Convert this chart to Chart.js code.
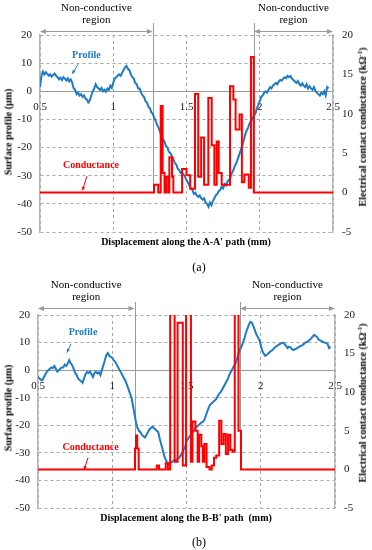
<!DOCTYPE html>
<html>
<head>
<meta charset="utf-8">
<script src="https://cdn.jsdelivr.net/npm/chart.js@4.4.1/dist/chart.umd.min.js"></script>
<style>
  html, body { margin: 0; padding: 0; background: #fff; }
  #wrap { position: relative; width: 372px; height: 550px; font-family: "Liberation Serif", serif; color: #000; }
  .panel { position: absolute; left: 0; width: 372px; height: 275px; }
  .panel canvas { position: absolute; left: 0; top: 0; }
  .ttl { position: absolute; white-space: nowrap; font-weight: bold; font-size: 10px; transform: translate(-50%, -50%); }
  .rot { transform: translate(-50%, -50%) rotate(-90deg); }
  .ttl sup { font-size: 7px; }
  .cap { position: absolute; font-size: 12px; transform: translate(-50%, -50%); }
</style>
</head>
<body>
<div id="wrap">
  <div class="panel" style="top:0">
    <canvas id="chartA" width="372" height="275"></canvas>
    <div class="ttl rot" style="left:8px;top:132px">Surface profile (μm)</div>
    <div class="ttl rot" style="left:362px;top:127px">Electrical contact conductance (kΩ<sup>-1</sup>)</div>
    <div class="ttl" style="left:186px;top:241px">Displacement along the A-A' path (mm)</div>
    <div class="cap" style="left:199px;top:267px">(a)</div>
  </div>
  <div class="panel" style="top:275px">
    <canvas id="chartB" width="372" height="275"></canvas>
    <div class="ttl rot" style="left:8px;top:133px">Surface profile (μm)</div>
    <div class="ttl rot" style="left:362px;top:128px">Electrical contact conductance (kΩ<sup>-1</sup>)</div>
    <div class="ttl" style="left:186px;top:242px">Displacement along the B-B' path&nbsp; (mm)</div>
    <div class="cap" style="left:199px;top:267px">(b)</div>
  </div>
</div>
<script>
/* ===== datos ===== */
const xTicks = [0.5, 1, 1.5, 2, 2.5];
const profileTicks = [-50, -40, -30, -20, -10, 0, 10, 20];
const condTicks = [-5, 0, 5, 10, 15, 20];

// posiciones a lo largo del camino (mm), comunes a los dos perfiles
const dispGrid = [
  0.50,0.51,0.52,0.53,0.54,0.55,0.56,0.57,0.58,0.59,0.60,0.61,0.62,0.63,0.64,0.65,0.66,0.67,0.68,0.69,
  0.70,0.71,0.72,0.73,0.74,0.75,0.76,0.77,0.78,0.79,0.80,0.81,0.82,0.83,0.84,0.85,0.86,0.87,0.88,0.89,
  0.90,0.91,0.92,0.93,0.94,0.95,0.96,0.97,0.98,0.99,1.00,1.01,1.02,1.03,1.04,1.05,1.06,1.07,1.08,1.09,
  1.10,1.11,1.12,1.13,1.14,1.15,1.16,1.17,1.18,1.19,1.20,1.21,1.22,1.23,1.24,1.25,1.26,1.27,1.28,1.29,
  1.30,1.31,1.32,1.33,1.34,1.35,1.36,1.37,1.38,1.39,1.40,1.41,1.42,1.43,1.44,1.45,1.46,1.47,1.48,1.49,
  1.50,1.51,1.52,1.53,1.54,1.55,1.56,1.57,1.58,1.59,1.60,1.61,1.62,1.63,1.64,1.65,1.66,1.67,1.68,1.69,
  1.70,1.71,1.72,1.73,1.74,1.75,1.76,1.77,1.78,1.79,1.80,1.81,1.82,1.83,1.84,1.85,1.86,1.87,1.88,1.89,
  1.90,1.91,1.92,1.93,1.94,1.95,1.96,1.97,1.98,1.99,2.00,2.01,2.02,2.03,2.04,2.05,2.06,2.07,2.08,2.09,
  2.10,2.11,2.12,2.13,2.14,2.15,2.16,2.17,2.18,2.19,2.20,2.21,2.22,2.23,2.24,2.25,2.26,2.27,2.28,2.29,
  2.30,2.31,2.32,2.33,2.34,2.35,2.36,2.37,2.38,2.39,2.40,2.41,2.42,2.43,2.44,2.45,2.46,2.47
];

// perfil A-A' (um)
const profileA = [
  1.5,5.5,7.0,6.0,6.8,6.2,5.5,6.0,5.2,5.8,6.3,5.5,5.0,4.2,4.8,4.0,5.0,4.5,3.8,4.6,
  3.5,4.2,3.0,1.0,0.5,-1.0,-0.5,-1.5,-1.0,-2.0,-1.5,-2.5,-3.0,-4.0,-3.2,-1.5,0.0,1.0,2.5,1.5,
  1.0,0.5,1.2,0.0,0.5,-0.2,1.0,0.5,2.0,1.2,3.0,4.5,5.0,5.5,6.0,5.5,6.5,7.5,8.5,9.0,
  8.0,7.5,6.0,5.0,4.5,3.0,2.5,1.0,1.0,-0.5,-1.5,-2.0,-3.5,-4.0,-5.5,-6.0,-7.5,-8.0,-9.5,-10.5,
  -12.0,-13.0,-14.5,-16.0,-17.0,-18.0,-19.5,-20.0,-21.5,-22.0,-23.0,-24.0,-25.5,-26.0,-27.5,-28.0,-29.0,-29.0,-29.5,-30.5,
  -31.5,-32.5,-33.5,-34.5,-35.0,-36.5,-36.0,-37.0,-37.5,-37.0,-38.0,-38.5,-38.0,-39.5,-40.0,-41.0,-39.5,-40.5,-39.0,-38.0,
  -37.0,-36.5,-35.5,-35.0,-34.0,-34.5,-33.0,-33.5,-32.0,-31.5,-30.5,-29.0,-28.0,-26.5,-25.5,-24.0,-22.5,-21.0,-19.5,-17.5,
  -15.5,-14.0,-13.0,-11.5,-10.5,-10.0,-8.5,-8.0,-6.0,-5.0,-3.5,-2.0,-1.5,-0.5,0.0,-0.5,0.5,1.5,1.0,2.0,
  2.5,3.0,2.5,3.5,4.0,3.8,4.5,5.0,4.6,5.5,5.0,5.4,4.5,4.0,3.5,3.0,3.6,2.5,2.0,2.8,
  2.0,1.5,2.5,1.0,1.8,1.0,0.5,1.5,0.2,-0.5,-1.0,-1.5,-0.5,-1.0,0.0,-1.5,1.5,1.0
];

// perfil B-B' (um)
const profileB = [
  -2.5,-3.0,-3.5,-3.6,-2.5,-1.5,-0.5,0.0,0.5,1.0,0.7,1.5,0.5,-0.5,0.0,0.5,1.0,1.0,2.0,1.5,
  2.4,3.6,2.5,1.8,0.5,-1.0,-1.8,-3.0,-3.6,-4.0,-4.6,-3.0,-1.5,-0.7,-1.0,-0.5,-1.5,-2.5,-1.0,-0.6,
  -1.2,-0.8,-1.8,0.0,1.8,3.5,5.5,6.2,5.2,4.8,4.5,3.5,3.0,2.0,1.0,0.0,-1.0,-2.0,-3.0,-4.0,
  -5.5,-7.0,-8.5,-10.0,-13.0,-16.0,-19.0,-21.0,-22.0,-22.5,-23.5,-24.0,-24.4,-23.5,-22.5,-21.5,-21.0,-20.5,-21.0,-21.5,
  -22.0,-22.5,-25.0,-27.0,-29.0,-31.0,-32.5,-33.5,-34.0,-33.0,-33.5,-33.0,-32.5,-32.8,-32.0,-31.8,-31.0,-30.0,-29.0,-28.0,
  -25.5,-25.0,-24.0,-23.5,-22.5,-22.0,-21.0,-20.5,-20.0,-19.5,-19.0,-18.8,-18.0,-16.5,-15.0,-13.5,-12.5,-12.0,-11.5,-11.0,
  -10.5,-9.5,-8.5,-8.0,-7.0,-6.0,-5.0,-4.0,-3.0,-1.5,-0.5,0.5,1.5,2.5,4.0,6.0,7.5,8.5,10.0,11.5,
  13.5,15.0,16.5,17.5,17.2,16.0,14.5,13.0,12.0,11.0,9.0,7.0,6.0,5.2,5.5,6.0,6.5,7.0,7.3,8.0,
  8.5,8.8,9.2,9.5,9.8,10.0,9.5,8.8,8.0,8.5,8.3,7.6,7.3,7.6,7.8,8.2,8.5,8.8,9.0,9.5,
  10.0,10.2,10.5,11.0,11.5,12.2,12.8,12.4,12.0,11.0,10.8,10.5,10.2,10.0,9.8,9.5,8.0,8.5
];

// conductancia A-A': inicio de cada escalon (mm) y su nivel (kOhm^-1)
const condAx = [0.5,1.278,1.307,1.324,1.337,1.35,1.36,1.375,1.383,1.401,1.41,1.47,1.5,1.525,1.558,1.58,1.6,1.62,1.649,1.672,
  1.69,1.706,1.72,1.74,1.797,1.82,1.835,1.862,1.878,1.895,1.925,1.94,1.959,2.5];
const condA = [0,1,0,11,2.5,0,2,0,4.5,2,0,3,2.2,0.5,12.5,2,7,1,12,6,
  1,6.5,2.5,1,13.5,11.8,8,9.9,1.3,2.3,0.6,17.2,0,0];

// conductancia B-B' (los picos > 20 salen del area y se recortan)
const condBx = [0.5,1.153,1.16,1.168,1.178,1.30,1.315,1.36,1.375,1.39,1.42,1.44,1.475,1.497,1.53,
  1.54,1.56,1.575,1.585,1.60,1.61,1.62,1.635,1.655,1.67,1.685,1.70,1.72,1.735,1.75,
  1.765,1.78,1.795,1.81,1.825,1.85,1.867,2.5];
const condB = [0,2.7,4.4,2.7,0,0.5,0,0.8,0,25,1,19,0.5,25,1,
  6.2,5,1,4.5,3,1,3.3,0.3,0,0.5,1.5,1.8,6.3,3.3,4.6,
  2,4.5,2.5,2.3,25,5,0,0];

// zonas no conductoras [desde, hasta] en mm
const regionsA = [[0.5, 1.27], [1.96, 2.5]];
const regionsB = [[0.5, 1.15], [1.86, 2.5]];

/* ===== estilo ===== */
const BLUE = '#1f7bc6';
const RED = '#ff0000';
const GRID = '#a8a8a8';
const AXIS = '#9a9a9a';

Chart.defaults.font.family = '"Liberation Serif", serif';
Chart.defaults.font.size = 11;
Chart.defaults.color = '#1a1a1a';

function toXY(xs, ys) {
  return xs.map((x, i) => ({ x, y: ys[i] }));
}
// escalones: cada nivel se mantiene hasta el siguiente inicio
function toSteps(xs, ys) {
  const pts = [];
  xs.forEach((x, i) => {
    if (i > 0) pts.push({ x, y: ys[i - 1] });
    pts.push({ x, y: ys[i] });
  });
  return pts;
}
function fixTicks(list) {
  return (scale) => { scale.ticks = list.map(v => ({ value: v })); };
}

function arrowHead(ctx, x, y, dir, len, half) {
  ctx.beginPath();
  ctx.moveTo(x, y);
  ctx.lineTo(x + dir * len, y - half);
  ctx.lineTo(x + dir * len, y + half);
  ctx.closePath();
  ctx.fill();
}

/* lineas verticales de las zonas (detras de las curvas) + flechas y textos */
const regionMarks = {
  id: 'regionMarks',
  beforeDatasetsDraw(chart, args, o) {
    const { ctx, scales: { x, y2 } } = chart;
    const base = y2.getPixelForValue(0);
    ctx.save();
    ctx.strokeStyle = AXIS;
    ctx.lineWidth = 1;
    o.regions.forEach(([a, b], i) => {
      const edge = Math.round(x.getPixelForValue(i === 0 ? b : a)) + 0.5;
      ctx.beginPath();
      ctx.moveTo(edge, o.lineTop);
      ctx.lineTo(edge, base);
      ctx.stroke();
    });
    ctx.restore();
  },
  afterDraw(chart, args, o) {
    const { ctx, scales: { x, y } } = chart;
    ctx.save();
    o.regions.forEach(([a, b]) => {
      const xa = x.getPixelForValue(a), xb = x.getPixelForValue(b);
      const ay = o.arrowY + 0.5;
      ctx.strokeStyle = AXIS;
      ctx.fillStyle = AXIS;
      ctx.lineWidth = 1;
      ctx.beginPath();
      ctx.moveTo(xa + 3, ay);
      ctx.lineTo(xb - 3, ay);
      ctx.stroke();
      arrowHead(ctx, xa, ay, 1, 6, 2.5);
      arrowHead(ctx, xb, ay, -1, 6, 2.5);
      ctx.fillStyle = '#000';
      ctx.font = '11px "Liberation Serif"';
      ctx.textAlign = 'center';
      ctx.textBaseline = 'middle';
      ctx.fillText('Non-conductive', (xa + xb) / 2, o.textY[0]);
      ctx.fillText('region', (xa + xb) / 2, o.textY[1]);
    });
    // etiquetas "Profile" / "Conductance" con su flechita
    o.tags.forEach(t => {
      ctx.fillStyle = t.color;
      ctx.strokeStyle = t.color;
      ctx.font = 'bold 10px "Liberation Serif"';
      ctx.textAlign = 'center';
      ctx.textBaseline = 'middle';
      ctx.fillText(t.text, x.getPixelForValue(t.at[0]), y.getPixelForValue(t.at[1]));
      const x1 = x.getPixelForValue(t.from[0]), y1 = y.getPixelForValue(t.from[1]);
      const x2 = x.getPixelForValue(t.to[0]), y2p = y.getPixelForValue(t.to[1]);
      const ang = Math.atan2(y2p - y1, x2 - x1);
      ctx.lineWidth = 1;
      ctx.beginPath();
      ctx.moveTo(x1, y1);
      ctx.lineTo(x2, y2p);
      ctx.stroke();
      ctx.beginPath();
      ctx.moveTo(x2, y2p);
      ctx.lineTo(x2 - 4 * Math.cos(ang - 0.45), y2p - 4 * Math.sin(ang - 0.45));
      ctx.lineTo(x2 - 4 * Math.cos(ang + 0.45), y2p - 4 * Math.sin(ang + 0.45));
      ctx.closePath();
      ctx.fill();
    });
    ctx.restore();
  }
};

function makePanel(canvasId, prof, cx, cy, cfg) {
  return new Chart(document.getElementById(canvasId), {
    type: 'line',
    data: {
      datasets: [
        {
          label: 'Conductance',
          data: toSteps(cx, cy),
          yAxisID: 'y2',
          borderColor: RED,
          borderWidth: 2,
          pointRadius: 0,
          tension: 0,
          clip: 0,
        },
        {
          label: 'Profile',
          data: toXY(dispGrid, prof),
          yAxisID: 'y',
          borderColor: BLUE,
          borderWidth: 2,
          pointRadius: 0,
          tension: 0,
          clip: 0,
        },
      ]
    },
    options: {
      responsive: false,
      animation: false,
      devicePixelRatio: 1,
      layout: { padding: { top: cfg.top, bottom: cfg.bottom, left: 0, right: 0 } },
      scales: {
        x: {
          type: 'linear',
          position: { y: 0 },
          min: 0.5, max: 2.5,
          afterBuildTicks: fixTicks(xTicks),
          ticks: { padding: 9, maxRotation: 0, autoSkip: false, color: '#1a1a1a', callback: (v) => String(v) },
          grid: { color: GRID, lineWidth: 1, drawTicks: false },
          border: { display: true, color: AXIS, width: 1, dash: [3, 3] },
        },
        y: {
          position: 'left',
          min: -50, max: 20,
          afterBuildTicks: fixTicks(profileTicks),
          afterFit: (s) => { s.width = cfg.leftW; },
          ticks: { padding: 8 },
          grid: { color: GRID, lineWidth: 1, drawTicks: false },
          border: { display: true, color: '#b4b4b4', width: 1.5, dash: [3, 3] },
        },
        y2: {
          position: 'right',
          min: -5, max: 20,
          afterBuildTicks: fixTicks(condTicks),
          afterFit: (s) => { s.width = cfg.rightW; },
          ticks: { padding: 9 },
          grid: { display: false, drawTicks: false },
          border: { display: true, color: '#b4b4b4', width: 1.5 },
        },
      },
      plugins: {
        legend: { display: false },
        tooltip: { enabled: false },
        regionMarks: {
          regions: cfg.regions,
          lineTop: cfg.lineTop,
          arrowY: cfg.arrowY,
          textY: cfg.textY,
          tags: cfg.tags,
        },
      },
    },
    plugins: [regionMarks],
  });
}

makePanel('chartA', profileA, condAx, condA, {
  top: 35, bottom: 43, leftW: 40, rightW: 39,
  regions: regionsA, lineTop: 23, arrowY: 31, textY: [8, 20],
  tags: [
    { text: 'Profile', color: BLUE, at: [0.817, 12.8], from: [0.76, 9.6], to: [0.72, 6.2] },
    { text: 'Conductance', color: RED, at: [0.848, -26.3], from: [0.82, -30.2], to: [0.79, -35.2] },
  ],
});

makePanel('chartB', profileB, condBx, condB, {
  top: 40, bottom: 42, leftW: 38, rightW: 37,
  regions: regionsB, lineTop: 27, arrowY: 33, textY: [10, 22],
  tags: [
    { text: 'Profile', color: BLUE, at: [0.803, 13.5], from: [0.722, 9.5], to: [0.695, 6.4] },
    { text: 'Conductance', color: RED, at: [0.854, -28.1], from: [0.837, -31.8], to: [0.81, -36.1] },
  ],
});
</script>
</body>
</html>
